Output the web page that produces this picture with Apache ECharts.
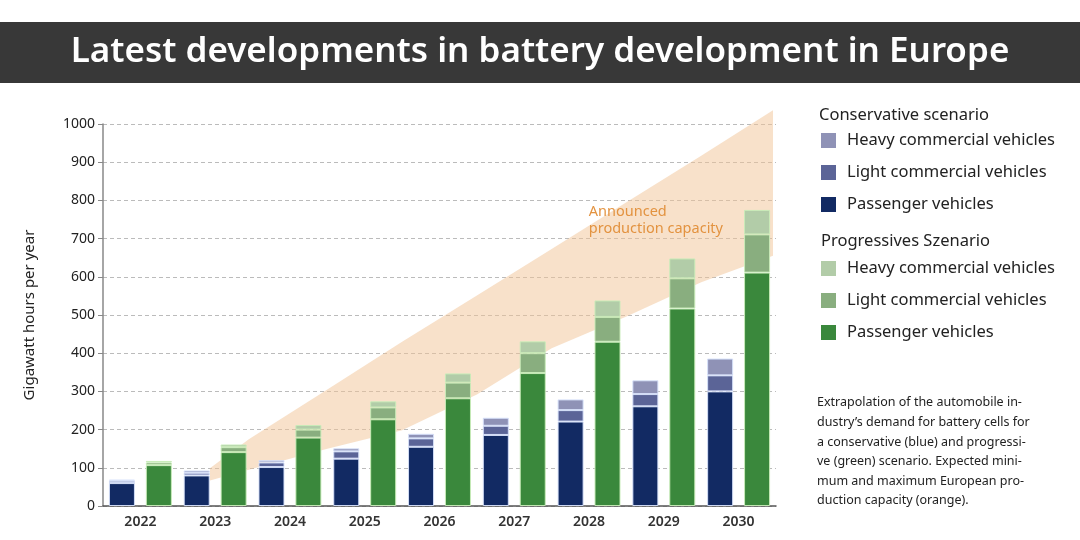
<!DOCTYPE html>
<html lang="en">
<head>
    <meta charset="UTF-8">
    <title>Battery development in Europe</title>
    <script src="https://cdn.jsdelivr.net/npm/echarts@6/dist/echarts.min.js"></script>
    <style>
        html, body { margin: 0; padding: 0; background: #fff; }
        #chart { width: 1080px; height: 540px; }
    </style>
</head>
<body>
<div id="chart"></div>
<script>
	// categories
	var years = ['2022', '2023', '2024', '2025', '2026', '2027', '2028', '2029', '2030'];

	// conservative scenario (GWh per year)
	var consPassenger = [60, 80, 102, 124, 155, 186, 221, 261, 300];
	var consLight     = [6, 7, 12, 19, 22, 24, 30, 32, 42];
	var consHeavy     = [3, 6, 6, 8, 12, 21, 28, 36, 44];

	// progressive scenario
	var progPassenger = [107, 141, 179, 227, 282, 348, 430, 517, 611];
	var progLight     = [7, 13, 21, 31, 41, 52, 65, 79, 100];
	var progHeavy     = [4, 7, 12, 16, 24, 31, 43, 52, 64];

	// announced production capacity band (min / max)
	var bandYears = [2022.93, 2023.45, 2024.5, 2025.5, 2026.5, 2027.5, 2028.5, 2029.5, 2030.46];
	var bandLow   = [67, 95, 150, 198, 292, 413, 496, 586, 655];
	var bandHigh  = [99, 175, 305, 430, 551, 673, 795, 917, 1036];

	var yTicks = [0, 100, 200, 300, 400, 500, 600, 700, 800, 900, 1000];

	var legendNames = {
		cHeavy: 'Heavy commercial vehicles',
		cLight: 'Light commercial vehicles',
		cPass: 'Passenger vehicles',
		pHeavy: 'Heavy commercial vehicles',
		pLight: 'Light commercial vehicles',
		pPass: 'Passenger vehicles'
	};

	var blueBorder = 'rgba(214,224,250,0.95)';
	var greenBorder = 'rgba(200,236,184,0.95)';

	function barSeries(id, stack, data, color, border) {
		return {
			name: id,
			type: 'bar',
			stack: stack,
			barWidth: 26,
			barGap: '42%',
			z: 3,
			data: data,
			itemStyle: { color: color, borderColor: border, borderWidth: 1 }
		};
	}

	// band polygon: upper edge left->right, then lower edge right->left
	function renderBand(params, api) {
		if (params.dataIndex !== 0) return;
		var pts = [];
		for (var i = 0; i < bandYears.length; i++) pts.push(api.coord([bandYears[i], bandHigh[i]]));
		for (var j = bandYears.length - 1; j >= 0; j--) pts.push(api.coord([bandYears[j], bandLow[j]]));
		return {
			type: 'polygon',
			shape: { points: pts },
			style: { fill: 'rgba(242,196,150,0.5)' }
		};
	}

	var chart = echarts.init(document.getElementById('chart'));
	var legendText = { fontFamily: 'Noto Sans', fontSize: 16.5, color: '#222', padding: [0, 0, 0, 6] };

	chart.setOption({
		animation: false,
		title: [{
			text: 'Latest developments in battery development in Europe',
			left: 'center',
			top: 30,
			textStyle: { color: '#fff', fontFamily: 'Noto Sans', fontWeight: 600, fontSize: 35 }
		}, {
			text: 'Conservative scenario',
			left: 814,
			top: 102,
			textStyle: { color: '#222', fontFamily: 'Noto Sans', fontWeight: 'normal', fontSize: 16.5 }
		}, {
			text: 'Progressives Szenario',
			left: 816,
			top: 228,
			textStyle: { color: '#222', fontFamily: 'Noto Sans', fontWeight: 'normal', fontSize: 16.5 }
		}],
		graphic: [{
			type: 'rect',
			z: -10,
			shape: { x: 0, y: 22, width: 1080, height: 61 },
			style: { fill: '#383838' }
		}, {
			type: 'text',
			right: 357,
			top: 203,
			z: 5,
			style: {
				text: 'Announced\nproduction capacity',
				align: 'right',
				fill: '#e39340',
				font: '14.5px "Noto Sans"',
				lineHeight: 17
			}
		}, {
			type: 'text',
			left: 817,
			top: 393,
			style: {
				text: 'Extrapolation of the automobile in-\n' +
					'dustry\u2019s demand for battery cells for\n' +
					'a conservative (blue) and progressi-\n' +
					've (green) scenario. Expected mini-\n' +
					'mum and maximum European pro-\n' +
					'duction capacity (orange).',
				fill: '#222',
				font: '12.5px "Noto Sans"',
				lineHeight: 19.6
			}
		}],
		legend: [{
			orient: 'vertical',
			left: 821,
			top: 132,
			padding: 0,
			itemGap: 15,
			itemWidth: 15,
			itemHeight: 15,
			icon: 'rect',
			itemStyle: { borderWidth: 0 },
			data: ['cHeavy', 'cLight', 'cPass'],
			formatter: function (n) { return legendNames[n]; },
			textStyle: legendText
		}, {
			orient: 'vertical',
			left: 821,
			top: 260,
			padding: 0,
			itemGap: 15,
			itemWidth: 15,
			itemHeight: 15,
			icon: 'rect',
			itemStyle: { borderWidth: 0 },
			data: ['pHeavy', 'pLight', 'pPass'],
			formatter: function (n) { return legendNames[n]; },
			textStyle: legendText
		}],
		grid: { left: 103, top: 124, width: 673, height: 382 },
		xAxis: [{
			type: 'category',
			data: years,
			axisLine: { lineStyle: { color: '#555', width: 1.5 } },
			axisTick: { inside: true, length: 7, lineStyle: { color: '#555' } },
			axisLabel: { color: '#333', fontFamily: 'Noto Sans', fontSize: 14, fontWeight: 600, margin: 9 }
		}, {
			// hidden value axis for the capacity band
			type: 'value',
			min: 2021.5,
			max: 2030.5,
			show: false
		}],
		yAxis: {
			type: 'value',
			min: yTicks[0],
			max: yTicks[yTicks.length - 1],
			interval: 100,
			name: 'Gigawatt hours per year',
			nameLocation: 'middle',
			nameGap: 66,
			nameTextStyle: { color: '#222', fontFamily: 'Noto Sans', fontSize: 15 },
			axisLine: { show: true, lineStyle: { color: '#888', width: 1.5 } },
			axisTick: { show: true, length: 5, lineStyle: { color: '#888' } },
			axisLabel: {
				color: '#222', fontFamily: 'Noto Sans', fontSize: 14, margin: 8,
				formatter: function (v) { return String(v); }
			},
			splitLine: { lineStyle: { color: '#bbb', type: [4, 3], width: 1 } }
		},
		series: [{
			name: 'band',
			type: 'custom',
			xAxisIndex: 1,
			silent: true,
			z: 1,
			renderItem: renderBand,
			data: bandYears.map(function (y, i) { return [y, bandLow[i], bandHigh[i]]; })
		},
			barSeries('cPass', 'cons', consPassenger, '#122a63', blueBorder),
			barSeries('cLight', 'cons', consLight, '#5b6497', blueBorder),
			barSeries('cHeavy', 'cons', consHeavy, '#8f92b6', blueBorder),
			barSeries('pPass', 'prog', progPassenger, '#3a883c', greenBorder),
			barSeries('pLight', 'prog', progLight, '#89ae7f', greenBorder),
			barSeries('pHeavy', 'prog', progHeavy, '#b2cca8', greenBorder)
		]
	});
</script>
</body>
</html>
